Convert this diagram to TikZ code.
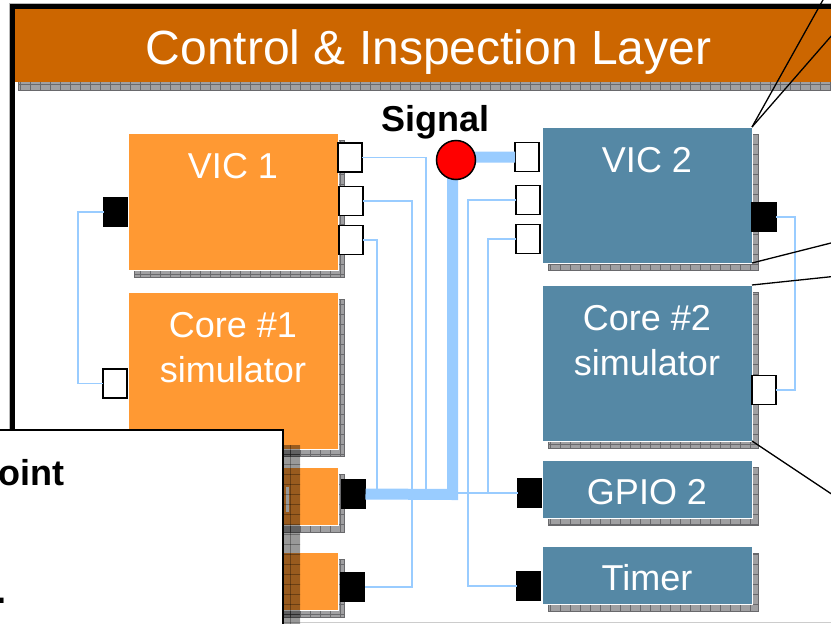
\documentclass[tikz,border=0pt]{standalone}
\usepackage{fontspec}
\setmainfont{Liberation Sans}
\usetikzlibrary{patterns,shadows}
\definecolor{headerorange}{RGB}{204,102,0}
\definecolor{boxorange}{RGB}{255,153,51}
\definecolor{boxblue}{RGB}{85,136,165}
\definecolor{wire}{RGB}{153,204,255}
\definecolor{shadowgray}{RGB}{160,160,162}
\definecolor{shadowdark}{RGB}{105,105,108}
\pgfdeclarepatternformonly{shadowgrid}{\pgfpoint{-1pt}{-1pt}}{\pgfpoint{11pt}{11pt}}{\pgfpoint{10pt}{10pt}}{%
  \pgfsetlinewidth{0.6pt}%
  \pgfpathmoveto{\pgfpoint{0pt}{0pt}}\pgfpathlineto{\pgfpoint{0pt}{10pt}}%
  \pgfpathmoveto{\pgfpoint{0pt}{0pt}}\pgfpathlineto{\pgfpoint{10pt}{0pt}}%
  \pgfusepath{stroke}}
\tikzset{
  boxshadow/.style={
    general shadow={shadow xshift=6pt, shadow yshift=-7pt, fill=shadowgray, draw=shadowdark, line width=0.6pt},
    general shadow={shadow xshift=6pt, shadow yshift=-7pt, pattern=shadowgrid, pattern color=shadowdark}},
  box/.style={rectangle, inner sep=0pt, outer sep=0pt, draw=white, line width=1pt, anchor=north west, boxshadow},
  obox/.style={box, fill=boxorange},
  bbox/.style={box, fill=boxblue},
  lbl/.style={anchor=base, inner sep=0pt, text=white, font=\fontsize{36}{45}\selectfont, align=center},
  port/.style={rectangle, inner sep=0pt, outer sep=0pt, minimum width=24pt, minimum height=29pt, draw=black, line width=1.5pt},
  wport/.style={port, fill=white},
  bport/.style={port, fill=black},
  thinwire/.style={draw=wire, line width=1.8pt, line join=miter},
  buswire/.style={draw=wire, line width=11pt, line join=miter},
  pointer/.style={draw=black, line width=1.3pt},
  boldtxt/.style={inner sep=0pt, font=\bfseries\fontsize{36}{43}\selectfont},
}
\begin{document}
\begin{tikzpicture}[x=1pt,y=-1pt]
\useasboundingbox (0,0) rectangle (831,624);
\fill[white] (0,0) rectangle (831,624);
% frame
\draw[gray!55, line width=1pt] (9.5,700) -- (9.5,3.5) -- (900,3.5);
\draw[black, line width=5pt] (12.5,700) -- (12.5,6.5) -- (900,6.5);
\draw[gray!40, line width=1pt] (283,622.5) -- (900,622.5);
% header
\node[rectangle, inner sep=0pt, outer sep=0pt, anchor=north west, fill=headerorange,
      minimum width=840pt, minimum height=73pt,
      general shadow={shadow xshift=3pt, shadow yshift=-8pt, fill=shadowgray, draw=shadowdark, line width=0.6pt},
      general shadow={shadow xshift=3pt, shadow yshift=-8pt, pattern=shadowgrid, pattern color=shadowdark}]
      (header) at (15,9) {};
\node[anchor=base, inner sep=0pt, text=white, font=\fontsize{48}{56}\selectfont] (title) at (428.5,64) {Control \& Inspection Layer};
% boxes
\node[obox, minimum width=210pt, minimum height=137pt] (vic1) at (128,133) {};
\node[obox, minimum width=210pt, minimum height=157pt] (core1) at (128,292) {};
\node[obox, minimum width=210pt, minimum height=58pt] (gpio1) at (128,467) {};
\node[obox, minimum width=210pt, minimum height=58pt] (timer1) at (128,552) {};
\node[bbox, minimum width=210pt, minimum height=136pt] (vic2) at (542,127) {};
\node[bbox, minimum width=210pt, minimum height=156pt] (core2) at (542,285) {};
\node[bbox, minimum width=210pt, minimum height=58pt] (gpio2) at (542,460) {};
\node[bbox, minimum width=210pt, minimum height=58pt] (timer2) at (542,546) {};
% labels (base anchor = baseline of the last line)
\node[lbl] (vic1l) at ([yshift=-45pt]vic1.north) {VIC 1};
\node[lbl] (core1l) at ([yshift=-90pt]core1.north) {Core \#1\\simulator};
\node[lbl] (vic2l) at ([yshift=-45pt]vic2.north) {VIC 2};
\node[lbl] (core2l) at ([yshift=-90pt]core2.north) {Core \#2\\simulator};
\node[lbl] (gpio2l) at ([yshift=-44pt]gpio2.north) {GPIO 2};
\node[lbl] (timer2l) at ([yshift=-44pt]timer2.north) {Timer};
% ports
\node[wport] (p1) at (350,157.5) {};
\node[wport] (p2) at (351,201) {};
\node[wport] (p3) at (351,240) {};
\node[bport] (vl) at (115.5,212) {};
\node[wport] (cl) at (115,383.5) {};
\node[bport] (b1p) at (353.5,494) {};
\node[bport] (b2p) at (352.5,587) {};
\node[wport] (q1) at (527,157) {};
\node[wport] (q2) at (528,200) {};
\node[wport] (q3) at (528,239) {};
\node[bport] (vr) at (764,217) {};
\node[wport] (cr) at (764,390) {};
\node[bport] (g2p) at (529.5,493) {};
\node[bport] (t2p) at (528.5,586) {};
% bus corner
\coordinate (busc) at (452.5,494.5);
% thin wires
\draw[thinwire] (p1.east) -- (426,157.5) -- (426,494.5);
\draw[thinwire] (p2.east) -- (412,201) |- (b2p.east);
\draw[thinwire] (p3.east) -- (377,240) -- (377,494.5);
\draw[thinwire] (q2.west) -- (468,200) |- (t2p.west);
\draw[thinwire] (q3.west) -- (488,239) |- (g2p.west);
\draw[thinwire] (g2p.west -| busc) -- (g2p.west);
\draw[thinwire] (vl.west) -- (78,212) |- (cl.west);
\draw[thinwire] (vr.east) -- (795,217) |- (cr.east);
% bus
\draw[buswire] (q1.west) -- (q1.west -| busc) -- (busc) -- (b1p.east);
\node[circle, fill=red, draw=black, line width=1.5pt, minimum size=39pt, inner sep=0pt] (sig) at (456,160) {};
\node[boldtxt, anchor=base] (siglbl) at (435.5,131) {Signal};
% pointer lines
\coordinate (e1) at (823.5,-1);
\coordinate (e2) at (833,34);
\coordinate (e3) at (833,242.5);
\coordinate (e4) at (833,276.5);
\coordinate (e5) at (833,495);
\draw[pointer] (vic2.north east) -- (e1);
\draw[pointer] (vic2.north east) -- (e2);
\draw[pointer] (vic2.south east) -- (e3);
\draw[pointer] (core2.north east) -- (e4);
\draw[pointer] (core2.south east) -- (e5);
% hidden text sliver
\fill[white] (285.5,487) rectangle (288.5,512);
% callout
\node[rectangle, anchor=north east, inner sep=0pt, outer sep=0pt, fill=white, draw=black, line width=2pt,
      minimum width=320pt, minimum height=260pt,
      general shadow={shadow xshift=17pt, shadow yshift=-15pt, fill=black, opacity=0.4},
      general shadow={shadow xshift=17pt, shadow yshift=-15pt, pattern=shadowgrid, pattern color=black, opacity=0.3}]
      (callout) at (283,430) {};
\node[boldtxt, anchor=base east] (ctext) at (65,485) {oint};
\node[boldtxt, anchor=base east] (cdot) at (6.4,603) {.};
\end{tikzpicture}
\end{document}
